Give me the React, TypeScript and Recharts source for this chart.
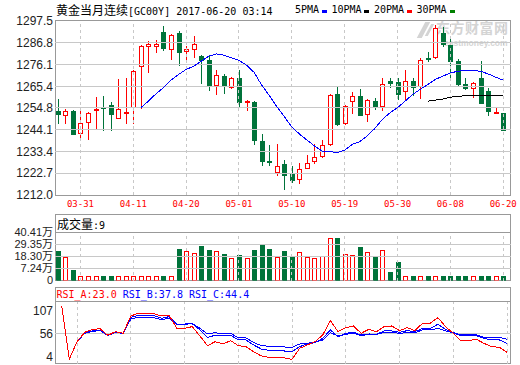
import React from 'react'
import { ComposedChart, Bar, Line, XAxis, YAxis, ReferenceLine } from 'recharts'

const DATES = [
  '03-28', '03-29', '03-30', '03-31', '04-03', '04-04', '04-05', '04-06', '04-07', '04-10',
  '04-11', '04-12', '04-13', '04-14', '04-17', '04-18', '04-19', '04-20', '04-21', '04-24',
  '04-25', '04-26', '04-27', '04-28', '05-01', '05-02', '05-03', '05-04', '05-05', '05-08',
  '05-09', '05-10', '05-11', '05-12', '05-15', '05-16', '05-17', '05-18', '05-19', '05-22',
  '05-23', '05-24', '05-25', '05-26', '05-29', '05-30', '05-31', '06-01', '06-02', '06-05',
  '06-06', '06-07', '06-08', '06-09', '06-12', '06-13', '06-14', '06-15', '06-16', '06-20'
]
const X_LABELS = ['03-31', '04-11', '04-20', '05-01', '05-10', '05-19', '05-30', '06-08', '06-20']

const OPEN = [
  1253.4, 1251.3, 1253.4, 1242.5, 1247.9, 1253.7, 1255.4, 1256.2, 1249.8, 1252.4,
  1255.2, 1275.3, 1285.4, 1285.4, 1292.1, 1283.8, 1291.6, 1282.6, 1283.5, 1280.2,
  1278.1, 1266.0, 1270.5, 1265.3, 1269.6, 1257.5, 1257.8, 1238.7, 1228.6, 1223.4,
  1227.1, 1222.2, 1219.9, 1225.1, 1228.7, 1231.4, 1237.2, 1261.6, 1247.4, 1258.1,
  1260.8, 1251.6, 1258.1, 1255.7, 1267.8, 1267.6, 1263.0, 1268.1, 1265.5, 1279.4,
  1279.7, 1291.8, 1285.7, 1277.7, 1266.6, 1264.5, 1269.4, 1263.2, 1252.4, 1252.4
]
const HIGH = [
  1259.0, 1254.5, 1253.9, 1253.9, 1252.9, 1260.3, 1260.8, 1257.8, 1269.1, 1269.7,
  1273.5, 1285.6, 1287.5, 1288.2, 1295.0, 1291.1, 1292.4, 1285.4, 1290.1, 1280.6,
  1280.2, 1273.2, 1271.5, 1270.2, 1273.2, 1258.8, 1258.3, 1242.1, 1236.4, 1237.2,
  1229.1, 1226.3, 1227.9, 1231.8, 1237.2, 1239.2, 1261.7, 1265.0, 1256.2, 1262.7,
  1264.2, 1259.4, 1259.8, 1269.4, 1269.4, 1269.6, 1273.5, 1269.6, 1279.4, 1282.3,
  1295.7, 1294.4, 1288.8, 1278.6, 1269.6, 1267.3, 1277.9, 1264.7, 1255.2, 1252.5
]
const LOW = [
  1247.0, 1247.0, 1241.3, 1238.9, 1238.9, 1243.8, 1243.3, 1243.3, 1249.2, 1246.7,
  1247.0, 1254.5, 1272.0, 1282.0, 1282.6, 1278.4, 1275.6, 1278.1, 1279.4, 1266.3,
  1263.0, 1260.9, 1261.7, 1264.2, 1254.9, 1253.1, 1236.4, 1226.1, 1226.1, 1221.2,
  1214.4, 1217.8, 1217.3, 1224.7, 1227.1, 1230.4, 1236.3, 1245.7, 1246.2, 1251.6,
  1250.6, 1247.9, 1253.6, 1253.1, 1264.7, 1258.5, 1258.5, 1260.6, 1259.0, 1277.2,
  1278.9, 1284.6, 1267.9, 1265.0, 1263.7, 1259.8, 1256.7, 1250.6, 1251.6, 1243.7
]
const CLOSE = [
  1251.6, 1253.2, 1241.8, 1247.4, 1252.3, 1254.5, 1254.9, 1251.6, 1254.4, 1252.9,
  1272.8, 1285.1, 1286.2, 1286.2, 1284.4, 1290.5, 1282.5, 1283.8, 1286.2, 1278.1,
  1265.8, 1270.9, 1265.8, 1269.4, 1257.5, 1258.0, 1238.9, 1228.6, 1228.1, 1226.3,
  1221.7, 1219.3, 1224.8, 1227.8, 1230.7, 1236.6, 1261.1, 1247.0, 1255.7, 1260.6,
  1251.1, 1258.6, 1255.5, 1266.5, 1267.0, 1261.7, 1267.9, 1265.0, 1278.2, 1278.7,
  1293.9, 1286.4, 1277.7, 1266.6, 1264.8, 1267.0, 1257.0, 1253.1, 1252.7, 1243.8
]
// 万手
const VOLUME = [
  23.1, 18.2, 5.4, 0.3, 0.3, 0.3, 0.3, 0.3, 0.3, 0.3,
  0.3, 0.3, 0.3, 0.3, 0.3, 0.3, 24.9, 23.1, 21.2, 27.7,
  24.0, 23.1, 20.3, 16.6, 19.4, 16.6, 24.0, 29.6, 24.9, 18.2,
  23.1, 18.4, 22.1, 18.2, 17.2, 19.1, 35.8, 35.1, 20.3, 19.4,
  26.8, 22.8, 18.4, 24.6, 3.9, 12.9, 0.3, 0.3, 0.3, 0.3,
  0.3, 0.3, 0.3, 0.3, 0.3, 0.3, 0.3, 0.3, 0.3, 0.3
]
const MA_BLUE = [
  null, null, null, null, null, null, null, null, null, null,
  null, 1254.9, 1258.1, 1261.7, 1264.7, 1268.5, 1271.2, 1273.7, 1275.3, 1277.7,
  1280.2, 1281.3, 1280.7, 1279.4, 1278.1, 1275.8, 1272.3, 1266.0, 1261.0, 1255.5,
  1250.5, 1245.5, 1242.0, 1239.0, 1236.1, 1233.6, 1233.4, 1232.8, 1234.0, 1236.9,
  1238.2, 1241.0, 1244.7, 1249.2, 1252.4, 1254.9, 1258.1, 1261.4, 1263.9, 1266.3,
  1268.8, 1270.4, 1272.0, 1272.8, 1273.2, 1273.2, 1272.8, 1271.5, 1269.9, 1268.4
]
const MA_BLACK = [
  null, null, null, null, null, null, null, null, null, null,
  null, null, null, null, null, null, null, null, null, null,
  null, null, null, null, null, null, null, null, null, null,
  null, null, null, null, null, null, null, null, null, null,
  null, null, null, null, null, null, null, null, null, 1258.1,
  1258.6, 1259.1, 1260.1, 1260.4, 1260.9, 1261.1, 1261.1, 1261.1, 1261.1, 1261.1
]
const RSI_A = [
  null, 117, -1.5, 37.3, 58.2, 64.3, 66.4, 51.5, 59.7, 56,
  94.8, 100.8, 100.8, 100.1, 94.8, 96.3, 67.2, 67.2, 70.9, 50.0,
  28.4, 37.3, 32.1, 39.6, 28.4, 26.1, 14.8, 5.3, 2.3, 1.5,
  0.8, -2.2, 22.4, 29.9, 37.3, 52.3, 84.4, 59.7, 68.7, 72.4,
  56, 65.0, 59.7, 70.9, 72.4, 62.0, 68.7, 62.0, 78.4, 78.4,
  91.1, 70.9, 56, 39.6, 39.6, 42.6, 33.6, 26.1, 24.7, 13.5
]
const RSI_B = [
  null, 117, -1.5, 37.3, 57.5, 61.2, 63.5, 51.5, 57.5, 56,
  91.8, 96.3, 96.3, 95.6, 89.6, 93.3, 76.1, 76.1, 77.6, 63.5,
  47.0, 51.5, 50.0, 51.5, 41.1, 41.1, 29.9, 20.9, 17.9, 17.2,
  16.4, 15.0, 26.1, 32.1, 34.9, 44.8, 63.5, 48.5, 56, 58.2,
  52.3, 54.5, 53.8, 61.2, 61.2, 58.2, 62.0, 59.7, 67.2, 67.2,
  76.1, 65.0, 57.5, 50.0, 50.0, 50.8, 44.8, 41.1, 41.1, 33.6
]
const RSI_C = [
  null, 117, -1.5, 37.3, 56, 60.5, 62.0, 51.5, 57.5, 56,
  88.1, 91.8, 92.5, 91.1, 86.6, 89.6, 76.1, 76.8, 77.6, 67.2,
  54.5, 57.5, 54.5, 56, 45.6, 45.6, 35.3, 28.4, 26.9, 26.1,
  25.4, 24.7, 32.1, 33.6, 36.6, 41.1, 57.5, 50.0, 53.8, 56,
  50.8, 53.8, 53.8, 58.2, 58.2, 56, 57.5, 57.5, 63.5, 63.5,
  67.2, 61.2, 57.5, 52.3, 52.3, 52.3, 47.0, 47.0, 47.0, 42.6
]

const PRICE_TICKS = [1212.0, 1222.7, 1233.4, 1244.1, 1254.8, 1265.4, 1276.1, 1286.8, 1297.5]
const VOL_AXIS_MIN = -3.83
const VOL_TICKS = [VOL_AXIS_MIN, 7.24, 18.3, 29.35, 40.41]
const RSI_TICKS = [4, 56, 107]

const RED = '#ff0000'
const GREEN = '#00733a'
const BLUE = '#0000ff'
const GRID = '#c8c8c8'
const FRAME = '#999999'
const MARK = '#d4d4d4'
const MONO = '"DejaVu Sans Mono", monospace'
const CJK = '"Noto Sans CJK SC", sans-serif'
const SANS = '"Liberation Sans", "Noto Sans CJK SC", sans-serif'

const rows = DATES.map((date, i) => ({
  date,
  open: OPEN[i],
  high: HIGH[i],
  low: LOW[i],
  close: CLOSE[i],
  volume: VOLUME[i],
  maBlue: MA_BLUE[i],
  maBlack: MA_BLACK[i],
  rsiA: RSI_A[i],
  rsiB: RSI_B[i],
  rsiC: RSI_C[i]
}))

const Candle = (props: any) => {
  const { x, y, width, height, index } = props
  const d = props.payload && props.payload.open != null ? props.payload : rows[index]
  const c = Math.round(x + width / 2)
  const k = height / (d.high - d.low)
  const py = (v: number) => y + (d.high - v) * k
  const up = d.close >= d.open
  const color = up ? RED : GREEN
  const top = Math.round(py(Math.max(d.open, d.close)))
  const bot = Math.round(py(Math.min(d.open, d.close)))
  return (
    <g>
      <line x1={c + 0.5} x2={c + 0.5} y1={y} y2={y + height} stroke={color} />
      <rect
        x={c - 1.5}
        y={top + 0.5}
        width={4}
        height={Math.max(bot - top, 1)}
        fill={up ? '#fff' : color}
        stroke={color}
      />
    </g>
  )
}

const VolumeBar = (props: any) => {
  const { x, y, width, height, index } = props
  const d = rows[index]
  const c = Math.round(x + width / 2)
  const up = d.close >= d.open
  const color = up ? RED : GREEN
  const top = Math.round(y)
  const bot = Math.round(y + height)
  return (
    <rect
      x={c - 1.5}
      y={top + 0.5}
      width={4}
      height={Math.max(bot - top - 1, 1)}
      fill={up ? '#fff' : color}
      stroke={color}
    />
  )
}

const tickStyle = { fill: '#222', fontSize: 12, fontFamily: SANS }
const xPadding = { left: -1, right: 3.5 }

const box = (top: number, height: number): React.CSSProperties => ({
  position: 'absolute',
  left: 55,
  top,
  width: 456,
  height,
  boxSizing: 'border-box',
  border: `1px solid ${FRAME}`
})
const rule = (top: number): React.CSSProperties => ({
  position: 'absolute',
  left: 55,
  top,
  width: 456,
  height: 1,
  background: FRAME
})
const layer: React.CSSProperties = { position: 'absolute', left: 0, top: 0 }

const legend = [
  { label: '5PMA', x: 295, sq: 321.5, color: BLUE },
  { label: '10PMA', x: 331.5, sq: 364, color: '#000' },
  { label: '20PMA', x: 374, sq: 407, color: RED },
  { label: '30PMA', x: 416.5, sq: 450, color: '#008000' }
]

export default function App() {
  const verticals = X_LABELS.map(d => (
    <ReferenceLine key={d} x={d} stroke={GRID} strokeDasharray="3 3" />
  ))

  return (
    <div className="rc" style={{ position: 'absolute', left: 0, top: 0, width: 520, height: 365, background: '#fff', overflow: 'hidden' }}>
      <style>{`.rc svg line, .rc svg rect, .rc svg path { shape-rendering: crispEdges; }`}</style>

      {/* title + ma legend */}
      <div style={{ position: 'absolute', left: 56, top: 3, lineHeight: '14px', whiteSpace: 'pre', color: '#000' }}>
        <span style={{ fontFamily: CJK, fontSize: 12 }}>黄金当月连续</span>
        <span style={{ fontFamily: MONO, fontSize: 10 }}>[GC00Y] 2017-06-20 03:14</span>
      </div>
      {legend.map(l => (
        <React.Fragment key={l.label}>
          <div style={{ position: 'absolute', left: l.x, top: 3, lineHeight: '14px', fontFamily: MONO, fontSize: 10, color: '#000' }}>
            {l.label}
          </div>
          <div style={{ position: 'absolute', left: l.sq, top: 10, width: 5, height: 3, background: l.color }} />
        </React.Fragment>
      ))}

      {/* watermark */}
      <div style={{ position: 'absolute', left: 421, top: 22, width: 5, height: 16, background: MARK, transform: 'skewX(-28deg)' }} />
      <div style={{ position: 'absolute', left: 428, top: 24, width: 3, height: 12, background: MARK, transform: 'skewX(-28deg)' }} />
      <div style={{ position: 'absolute', left: 436, top: 18.5, fontFamily: CJK, fontWeight: 'bold', fontSize: 14, color: MARK, lineHeight: '17px', letterSpacing: 0.5 }}>
        东方财富网
      </div>
      <div style={{ position: 'absolute', left: 444, top: 39, fontFamily: SANS, fontWeight: 'bold', fontSize: 8.5, color: MARK, lineHeight: '8px' }}>
        eastmoney.com
      </div>

      {/* frames */}
      <div style={box(20, 176)} />
      <div style={box(214, 67)} />
      <div style={rule(232)} />
      <div style={box(287, 77)} />
      <div style={rule(301)} />

      <div style={{ position: 'absolute', left: 57, top: 216.5, lineHeight: '14px', whiteSpace: 'pre', color: '#000' }}>
        <span style={{ fontFamily: CJK, fontSize: 12 }}>成交量</span>
        <span style={{ fontFamily: MONO, fontSize: 10 }}>:9</span>
      </div>
      <div style={{ position: 'absolute', left: 56.5, top: 287.5, lineHeight: '14px', whiteSpace: 'pre', fontFamily: MONO, fontSize: 10 }}>
        <span style={{ color: RED }}>RSI_A:23.0</span>
        <span style={{ color: BLUE }}> RSI_B:37.8 RSI_C:44.4</span>
      </div>

      {/* price */}
      <div style={layer}>
        <ComposedChart width={520} height={365} data={rows} margin={{ top: 21, right: 9.5, bottom: 150, left: 0 }}>
          <XAxis
            dataKey="date"
            ticks={X_LABELS}
            interval={0}
            padding={xPadding}
            axisLine={false}
            tickLine={false}
            tickSize={0}
            tickMargin={6}
            height={20}
            tick={{ fill: RED, fontSize: 9, fontFamily: MONO }}
          />
          <YAxis
            domain={[1212, 1297.5]}
            ticks={PRICE_TICKS}
            interval={0}
            allowDataOverflow
            width={55}
            axisLine={false}
            tickLine={false}
            tickSize={0}
            tickMargin={2}
            tick={tickStyle}
            tickFormatter={(v: number) => v.toFixed(1)}
          />
          {PRICE_TICKS.slice(1, -1).map(v => (
            <ReferenceLine key={v} y={v} stroke={GRID} />
          ))}
          {verticals}
          <Bar dataKey={(d: any) => [d.low, d.high]} shape={Candle} isAnimationActive={false} />
          <Line dataKey="maBlue" stroke={BLUE} strokeWidth={1} dot={false} activeDot={false} isAnimationActive={false} />
          <Line dataKey="maBlack" stroke="#000" strokeWidth={1} dot={false} activeDot={false} isAnimationActive={false} />
        </ComposedChart>
      </div>

      {/* volume */}
      <div style={layer}>
        <ComposedChart width={520} height={365} data={rows} margin={{ top: 232.5, right: 9.5, bottom: 84.5, left: 0 }}>
          <XAxis dataKey="date" hide height={0} padding={xPadding} />
          <YAxis
            domain={[VOL_AXIS_MIN, 40.41]}
            ticks={VOL_TICKS}
            interval={0}
            allowDataOverflow
            width={55}
            axisLine={false}
            tickLine={false}
            tickSize={0}
            tickMargin={2}
            tick={{ ...tickStyle, fontSize: 11 }}
            tickFormatter={(v: number) => (v === VOL_AXIS_MIN ? '0' : v.toFixed(2) + '万')}
          />
          {VOL_TICKS.slice(1, -1).map(v => (
            <ReferenceLine key={v} y={v} stroke={GRID} />
          ))}
          {verticals}
          <Bar dataKey={(d: any) => [VOL_AXIS_MIN, d.volume]} shape={VolumeBar} isAnimationActive={false} />
        </ComposedChart>
      </div>

      {/* rsi */}
      <div style={layer}>
        <ComposedChart width={520} height={365} data={rows} margin={{ top: 301.5, right: 9.5, bottom: 1.5, left: 0 }}>
          <XAxis dataKey="date" hide height={0} padding={xPadding} />
          <YAxis
            domain={[-11.6, 127.2]}
            ticks={RSI_TICKS}
            interval={0}
            allowDataOverflow
            width={55}
            axisLine={false}
            tickLine={false}
            tickSize={0}
            tickMargin={2}
            tick={tickStyle}
          />
          <ReferenceLine y={56} stroke={GRID} />
          {verticals}
          <Line dataKey="rsiC" stroke={BLUE} strokeWidth={1} dot={false} activeDot={false} isAnimationActive={false} />
          <Line dataKey="rsiB" stroke={BLUE} strokeWidth={1} dot={false} activeDot={false} isAnimationActive={false} />
          <Line dataKey="rsiA" stroke={RED} strokeWidth={1} dot={false} activeDot={false} isAnimationActive={false} />
        </ComposedChart>
      </div>
    </div>
  )
}
